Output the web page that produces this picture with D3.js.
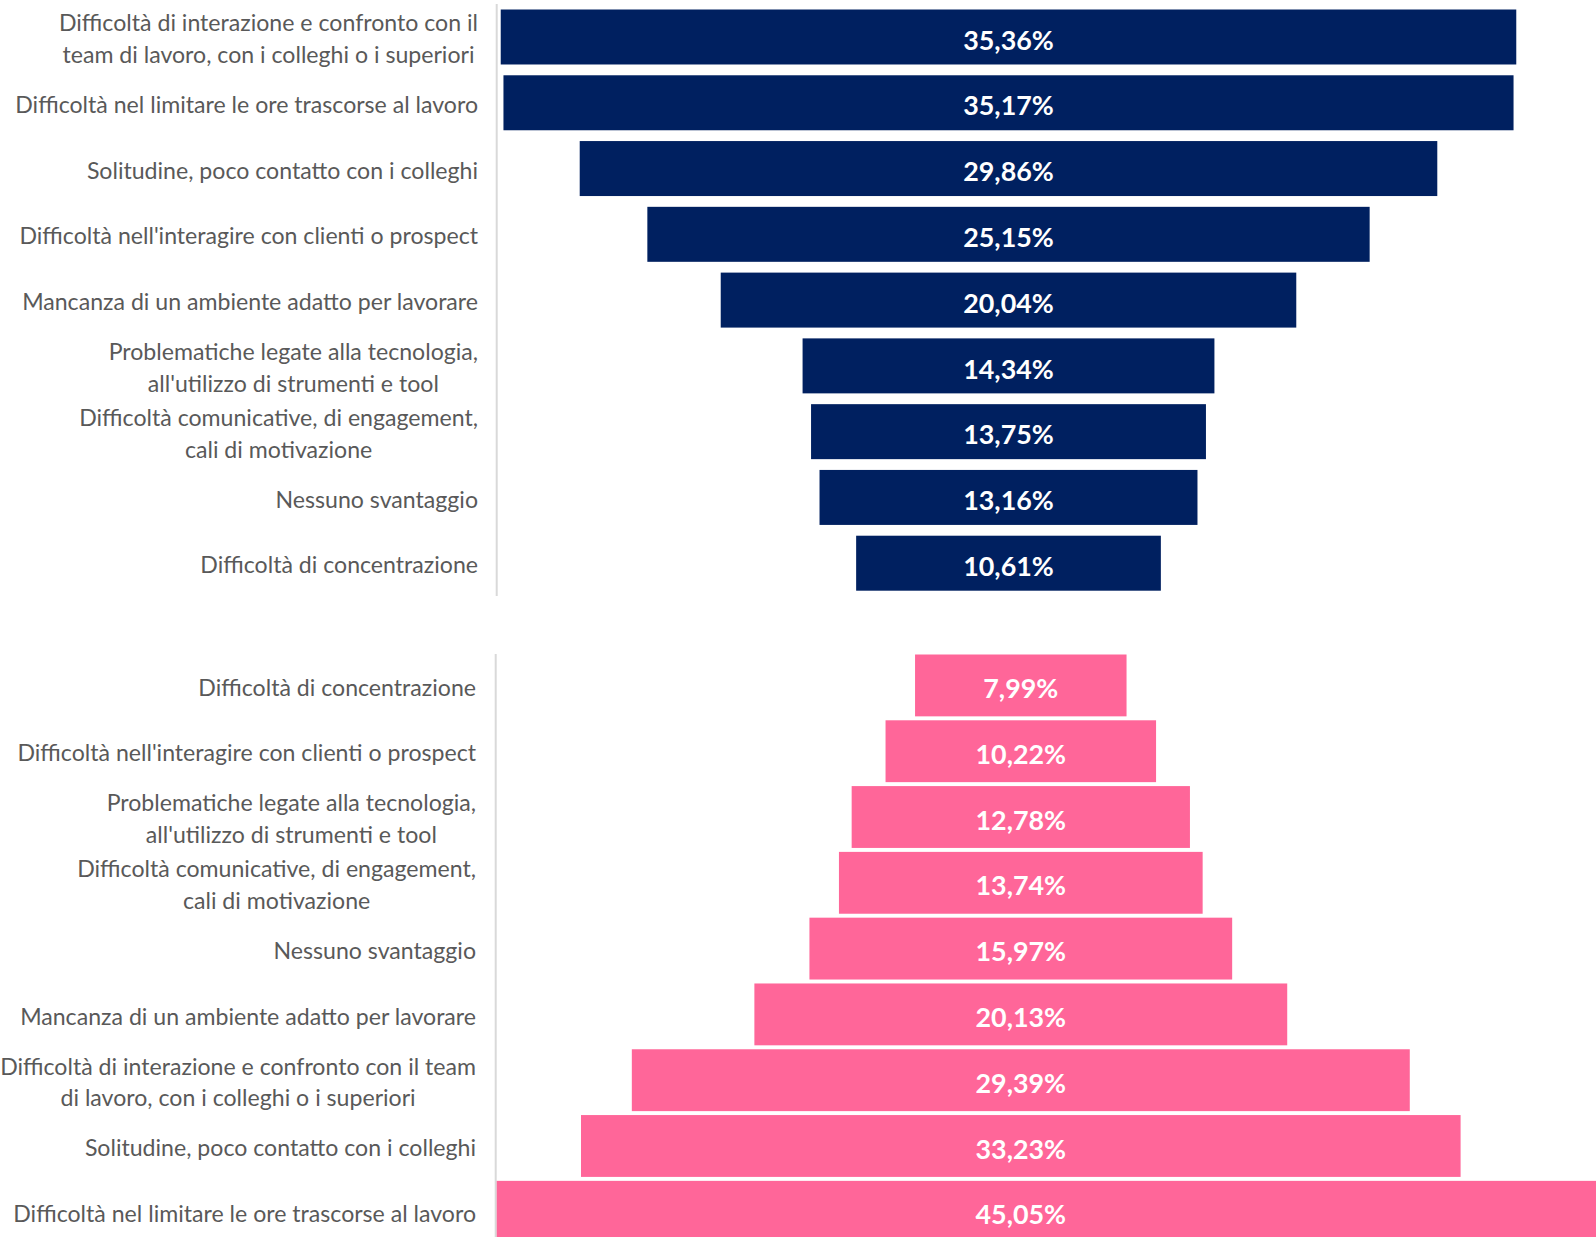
<!DOCTYPE html>
<html><head><meta charset="utf-8">
<script src="https://cdn.jsdelivr.net/npm/d3@7"></script>
<style>body{margin:0;background:#fff;} svg{display:block}</style>
</head><body><svg id="c" width="1596" height="1237"></svg>
<script>
// ---- data ----
const topCategories = [
  ["Difficoltà di interazione e confronto con il", "team di lavoro, con i colleghi o i superiori"],
  ["Difficoltà nel limitare le ore trascorse al lavoro"],
  ["Solitudine, poco contatto con i colleghi"],
  ["Difficoltà nell'interagire con clienti o prospect"],
  ["Mancanza di un ambiente adatto per lavorare"],
  ["Problematiche legate alla tecnologia,", "all'utilizzo di strumenti e tool"],
  ["Difficoltà comunicative, di engagement,", "cali di motivazione"],
  ["Nessuno svantaggio"],
  ["Difficoltà di concentrazione"]
];
const topValues = [35.36, 35.17, 29.86, 25.15, 20.04, 14.34, 13.75, 13.16, 10.61];

const bottomCategories = [
  ["Difficoltà di concentrazione"],
  ["Difficoltà nell'interagire con clienti o prospect"],
  ["Problematiche legate alla tecnologia,", "all'utilizzo di strumenti e tool"],
  ["Difficoltà comunicative, di engagement,", "cali di motivazione"],
  ["Nessuno svantaggio"],
  ["Mancanza di un ambiente adatto per lavorare"],
  ["Difficoltà di interazione e confronto con il team", "di lavoro, con i colleghi o i superiori"],
  ["Solitudine, poco contatto con i colleghi"],
  ["Difficoltà nel limitare le ore trascorse al lavoro"]
];
const bottomValues = [7.99, 10.22, 12.78, 13.74, 15.97, 20.13, 29.39, 33.23, 45.05];

const fmt = v => v.toFixed(2).replace('.', ',') + '%';

// ---- layout ----
const svg = d3.select('#c');
const FONT = "Lato, 'Open Sans', sans-serif";

function measure(text, size, weight) {
  const t = svg.append('text').attr('font-family', FONT).attr('font-size', size)
    .attr('font-weight', weight).text(text);
  const w = t.node().getComputedTextLength();
  t.remove();
  return w;
}
const labelSize = 20 * 463 / measure("Difficoltà nel limitare le ore trascorse al lavoro", 20, 400);
const valueSize = 20 * 90.6 / measure("35,36%", 20, 700);

const panels = [
  {id: 'top', cats: topCategories, vals: topValues, color: '#002060',
   center: 1008.5, k: 28.72, y0: 9.5, y1: 590.7, pad: 0.164,
   axisX: 496.7, axisY0: 4, axisY1: 596, labelRight: 478},
  {id: 'bottom', cats: bottomCategories, vals: bottomValues, color: '#ff6699',
   center: 1020.8, k: 26.47, y0: 654.5, y1: 1242.7, pad: 0.06,
   axisX: 495.7, axisY0: 654, axisY1: 1237, labelRight: 476}
];

const defs = svg.append('defs');

panels.forEach(p => {
  const x = d3.scaleLinear().domain([-25, 25]).range([p.center - 25 * p.k, p.center + 25 * p.k]);
  const y = d3.scaleBand().domain(d3.range(p.vals.length)).range([p.y0, p.y1])
    .paddingInner(p.pad).paddingOuter(0);

  defs.append('clipPath').attr('id', 'clip-' + p.id)
    .append('rect').attr('x', p.axisX + 1).attr('y', p.axisY0 - 10)
    .attr('width', 1596 - p.axisX).attr('height', p.axisY1 - p.axisY0 + 60);

  const g = svg.append('g');
  // axis line
  g.append('line').attr('x1', p.axisX).attr('x2', p.axisX)
    .attr('y1', p.axisY0).attr('y2', p.axisY1)
    .attr('stroke', '#d9d9d9').attr('stroke-width', 2);

  const bars = g.append('g').attr('clip-path', `url(#clip-${p.id})`);
  bars.selectAll('rect').data(p.vals).join('rect')
    .attr('x', d => x(-d / 2))
    .attr('width', d => x(d / 2) - x(-d / 2))
    .attr('y', (d, i) => y(i))
    .attr('height', y.bandwidth())
    .attr('fill', p.color);

  bars.selectAll('text').data(p.vals).join('text')
    .attr('x', x(0))
    .attr('y', (d, i) => y(i) + y.bandwidth() / 2 + 3 + valueSize * 0.36)
    .attr('text-anchor', 'middle')
    .attr('font-family', FONT).attr('font-weight', 700)
    .attr('font-size', valueSize).attr('fill', '#ffffff')
    .text(d => fmt(d));

  // category labels
  const lineH = 31.5;
  p.cats.forEach((lines, i) => {
    const cy = y(i) + y.bandwidth() / 2 + 2.5;
    const widths = lines.map(l => measure(l, labelSize, 400));
    const maxW = d3.max(widths);
    const cx = p.labelRight - maxW / 2;
    const t = g.append('text')
      .attr('font-family', FONT).attr('font-size', labelSize)
      .attr('fill', '#595959').attr('text-anchor', 'middle');
    lines.forEach((l, j) => {
      const ly = cy + (j - (lines.length - 1) / 2) * lineH + labelSize * 0.33;
      t.append('tspan').attr('x', cx).attr('y', ly).text(l);
    });
  });
});
</script>
</body></html>
